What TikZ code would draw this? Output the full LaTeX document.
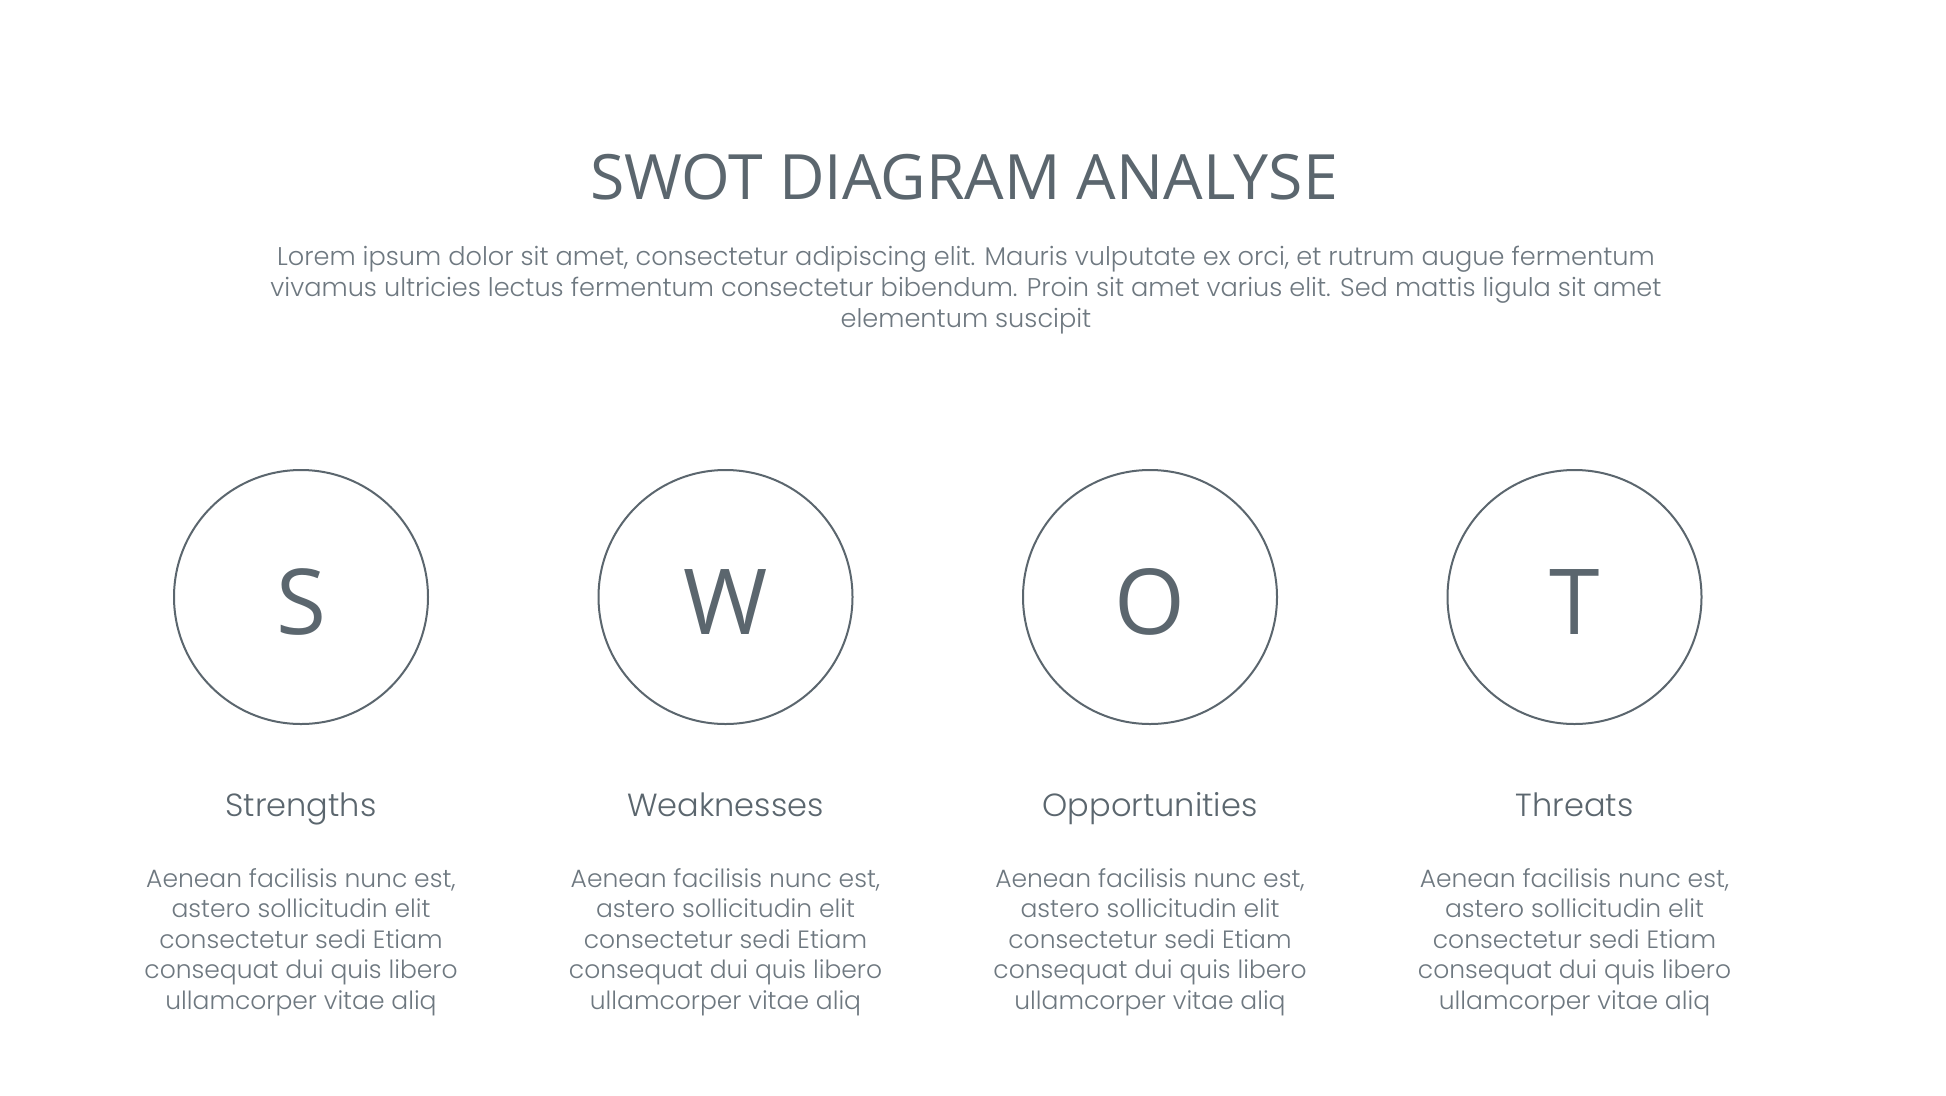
\documentclass[tikz,border=0pt]{standalone}
\usepackage{fontspec}
\setmainfont{Open Sans}
\newfontfamily\bodyfont{Poppins Light}
\definecolor{swotgray}{HTML}{5B666E}
\definecolor{textgray}{HTML}{6E7880}

\begin{document}
\begin{tikzpicture}[x=1pt,y=-1pt,
	ring/.style={circle,draw=swotgray,line width=2pt,minimum size=254pt,inner sep=0pt},
	letter/.style={anchor=base,text=swotgray,font=\fontsize{91}{91}\selectfont},
	heading/.style={anchor=base,text=swotgray,font=\bodyfont\fontsize{32}{36}\selectfont},
	bodytext/.style={anchor=base,align=center,text=textgray,font=\bodyfont\fontsize{25}{30.5}\selectfont}]
	\useasboundingbox[fill=white] (0,0) rectangle (1946,1095);
	\node[anchor=base,text=swotgray,font=\fontsize{62.5}{64}\selectfont] (title) at (964,199) {SWOT DIAGRAM ANALYSE};
	% base of a wrapped node = its last line
	\node[bodytext,font=\bodyfont\fontsize{25.6}{31}\selectfont] (intro) at (966,327)
		{Lorem ipsum dolor sit amet, consectetur adipiscing elit. Mauris vulputate ex orci, et rutrum augue fermentum\\
		vivamus ultricies lectus fermentum consectetur bibendum. Proin sit amet varius elit. Sed mattis ligula sit amet\\
		elementum suscipit};
	\foreach \ltr/\name/\x in {S/Strengths/301,W/Weaknesses/725.5,O/Opportunities/1150,T/Threats/1574.5}{
		\node[ring] (circle\ltr) at (\x,597) {};
		\node[letter] (letter\ltr) at (\x,634) {\ltr};
		\node[heading] (head\ltr) at (\x,816) {\name};
		\node[bodytext] (text\ltr) at (\x,1009)
			{Aenean facilisis nunc est,\\ astero sollicitudin elit\\ consectetur sedi Etiam\\
			consequat dui quis libero\\ ullamcorper vitae aliq};
	}
\end{tikzpicture}
\end{document}
